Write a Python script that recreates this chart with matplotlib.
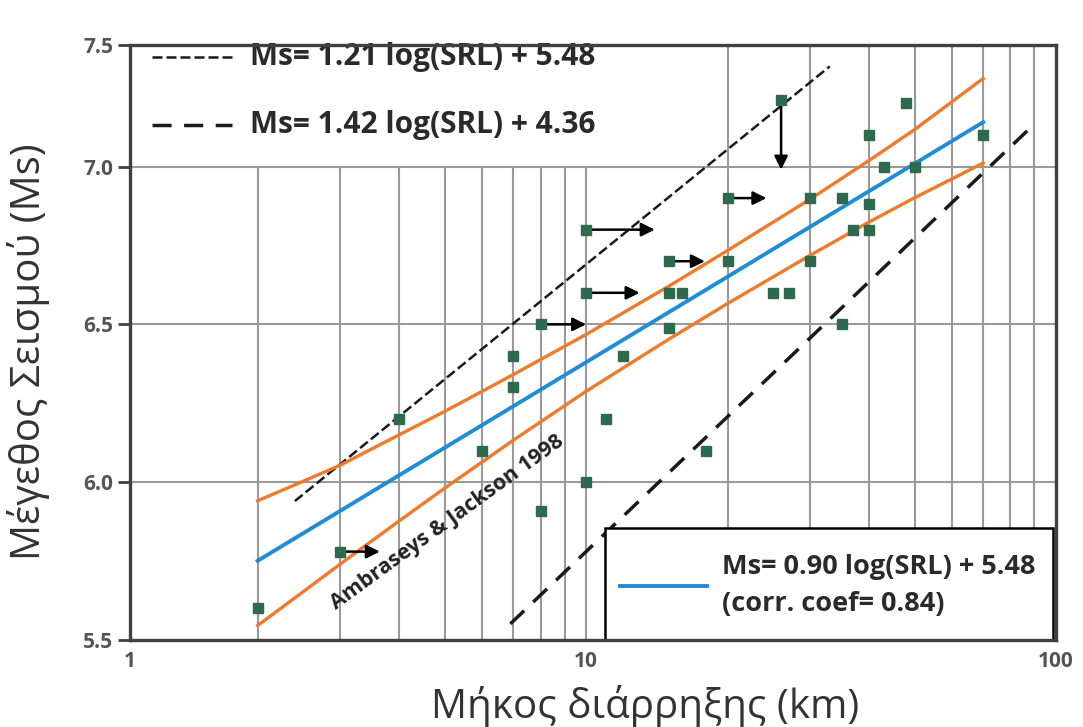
import matplotlib
matplotlib.use("Agg")
import matplotlib.pyplot as plt
import numpy as np
from matplotlib.patches import Rectangle
from matplotlib.lines import Line2D

# Surface rupture length (km) and surface-wave magnitude of each event
srl = [2, 3, 4, 6, 7, 7, 8, 8, 10, 10, 10, 11, 12, 15, 15, 16, 15, 18, 20, 20,
       25, 27, 26, 30, 30, 35, 35, 37, 40, 40, 40, 43, 50, 48, 70]
ms = [5.60, 5.78, 6.20, 6.10, 6.40, 6.30, 6.50, 5.91, 6.80, 6.60, 6.00, 6.20, 6.40, 6.70, 6.60, 6.60, 6.49, 6.10, 6.90, 6.70,
      6.60, 6.60, 7.21, 6.70, 6.90, 6.90, 6.50, 6.80, 6.80, 6.88, 7.10, 7.00, 7.00, 7.20, 7.10]

# Minimum-length / maximum-magnitude indications (arrow tail -> head)
arrow_x0 = [3, 8, 10, 10, 15, 20, 26]
arrow_y0 = [5.78, 6.50, 6.80, 6.60, 6.70, 6.90, 7.21]
arrow_x1 = [3.64, 10.0, 14.0, 13.0, 17.9, 24.2, 26]
arrow_y1 = [5.78, 6.50, 6.80, 6.60, 6.70, 6.90, 6.99]

# Regression of this data set
fit_slope, fit_icpt = 0.90, 5.48
fit_corr = 0.84
fit_range = (2, 70)

# Confidence band around the regression
band_x = [2, 2.5, 3, 4, 5, 7, 10, 15, 20, 30, 40, 50, 70]
band_upper = [5.941, 6.003, 6.054, 6.150, 6.224, 6.341, 6.468, 6.621, 6.734, 6.897, 7.019, 7.117, 7.279]
band_lower = [5.546, 5.653, 5.741, 5.877, 5.981, 6.133, 6.288, 6.453, 6.566, 6.719, 6.824, 6.901, 7.011]

# Ambraseys & Jackson (1998) relations
aj1_slope, aj1_icpt, aj1_range = 1.21, 5.48, (2.4, 33)
aj2_slope, aj2_icpt, aj2_range = 1.42, 4.36, (6.9, 87)

x_ticks = [1.07, 10, 100]
x_ticklabels = ["1", "10", "100"]
y_ticks = [5.5, 6.0, 6.5, 7.0, 7.385]
y_ticklabels = ["5.5", "6.0", "6.5", "7.0", "7.5"]

BLUE = "#1f8dd6"
ORANGE = "#f07a2c"
GREEN = "#2e6a4e"
GRID = "#9a9a9a"
SPINE = "#404040"
INK = "#2a2a2a"
FONT = "Open Sans"

FINE_DASH = dict(color="#1a1a1a", lw=1.8, ls=(0, (4, 1.6)))
COARSE_DASH = dict(color="#1a1a1a", lw=2.5, ls=(0, (5.5, 3.6)))

fig = plt.figure(figsize=(10.83, 7.27), dpi=100)
ax = fig.add_axes([130 / 1083, 1 - 640 / 727, 926 / 1083, 595 / 727])
ax.set_xscale("log")
ax.set_xlim(1.07, 100)
ax.set_ylim(5.5, 7.385)

# grid: every integer km per decade, magnitudes every 0.5
for v in list(range(2, 10)) + list(range(10, 100, 10)):
    ax.axvline(v, color=GRID, lw=1.5, zorder=1)
for v in [6.0, 6.5, 7.0]:
    ax.axhline(v, color=GRID, lw=1.5, zorder=1)

def line_xy(slope, icpt, rng):
    xs = np.array(rng, dtype=float)
    return xs, slope * np.log10(xs) + icpt

xs, ys = line_xy(aj1_slope, aj1_icpt, aj1_range)
ax.plot(xs, ys, zorder=3, **FINE_DASH)
xs, ys = line_xy(aj2_slope, aj2_icpt, aj2_range)
ax.plot(xs, ys, zorder=3, **COARSE_DASH)

ax.plot(band_x, band_upper, color=ORANGE, lw=2.4, zorder=4, solid_joinstyle="round")
ax.plot(band_x, band_lower, color=ORANGE, lw=2.4, zorder=4, solid_joinstyle="round")
xs, ys = line_xy(fit_slope, fit_icpt, fit_range)
ax.plot(xs, ys, color=BLUE, lw=2.8, zorder=5)

for x0, y0, x1, y1 in zip(arrow_x0, arrow_y0, arrow_x1, arrow_y1):
    ax.annotate("", xy=(x1, y1), xytext=(x0, y0),
                arrowprops=dict(arrowstyle="-|>", color="black", lw=1.8,
                                mutation_scale=20, shrinkA=0, shrinkB=0),
                zorder=6)

ax.plot(srl, ms, ls="none", marker="s", ms=6.8, color=GREEN, zorder=7)

ax.text(0.343, 0.197, "Ambraseys & Jackson 1998", transform=ax.transAxes,
        rotation=36, ha="center", va="center", fontsize=15.5, family=FONT,
        fontweight="bold", color="#222222", zorder=6)

# upper-left key for the published relations
ax.add_patch(Rectangle((0, 0.797), 0.56, 0.203, transform=ax.transAxes,
                       facecolor="white", edgecolor="none", zorder=8))
ax.add_line(Line2D([0.024, 0.110], [0.980, 0.980], transform=ax.transAxes,
                   zorder=9, **FINE_DASH))
ax.add_line(Line2D([0.024, 0.110], [0.866, 0.866], transform=ax.transAxes,
                   zorder=9, **COARSE_DASH))
ax.text(0.130, 0.980, f"Ms= {aj1_slope:.2f} log(SRL) + {aj1_icpt:.2f}",
        transform=ax.transAxes, va="center", ha="left", fontsize=21.5,
        family=FONT, fontweight="bold", color=INK, zorder=9)
ax.text(0.130, 0.866, f"Ms= {aj2_slope:.2f} log(SRL) + {aj2_icpt:.2f}",
        transform=ax.transAxes, va="center", ha="left", fontsize=21.5,
        family=FONT, fontweight="bold", color=INK, zorder=9)

# lower-right key for the regression
ax.add_patch(Rectangle((0.513, 0.0), 0.484, 0.188, transform=ax.transAxes,
                       facecolor="white", edgecolor="black", lw=1.8, zorder=8))
ax.add_line(Line2D([0.529, 0.623], [0.091, 0.091], transform=ax.transAxes,
                   color=BLUE, lw=2.8, zorder=9))
ax.text(0.639, 0.123, f"Ms= {fit_slope:.2f} log(SRL) + {fit_icpt:.2f}",
        transform=ax.transAxes, va="center", ha="left", fontsize=19.5,
        family=FONT, fontweight="bold", color=INK, zorder=9)
ax.text(0.639, 0.060, f"(corr. coef= {fit_corr:.2f})",
        transform=ax.transAxes, va="center", ha="left", fontsize=19.5,
        family=FONT, fontweight="bold", color=INK, zorder=9)

ax.set_xticks(x_ticks)
ax.set_xticklabels(x_ticklabels)
ax.xaxis.set_minor_locator(matplotlib.ticker.NullLocator())
ax.set_yticks(y_ticks)
ax.set_yticklabels(y_ticklabels)
ax.tick_params(axis="x", length=0, pad=8, labelsize=15, labelcolor="#555555")
ax.tick_params(axis="y", length=9, width=2, color=SPINE, pad=3,
               labelsize=15, labelcolor="#555555")
for lab in ax.get_xticklabels() + ax.get_yticklabels():
    lab.set_family(FONT)
    lab.set_fontweight("bold")

for sp in ax.spines.values():
    sp.set_color(SPINE)
    sp.set_linewidth(2.4)
    sp.set_zorder(10)

ax.set_xlabel("Μήκος διάρρηξης (km)", fontsize=29, family=FONT,
              color="#333333", va="center", ha="center")
ax.set_ylabel("Μέγεθος Σεισμού (Ms)", fontsize=29, family=FONT,
              color="#333333", va="center", ha="center")
ax.xaxis.set_label_coords(0.556, -0.112)
ax.yaxis.set_label_coords(-0.110, 0.485)

fig.savefig("out.png", dpi=100, facecolor="white")
